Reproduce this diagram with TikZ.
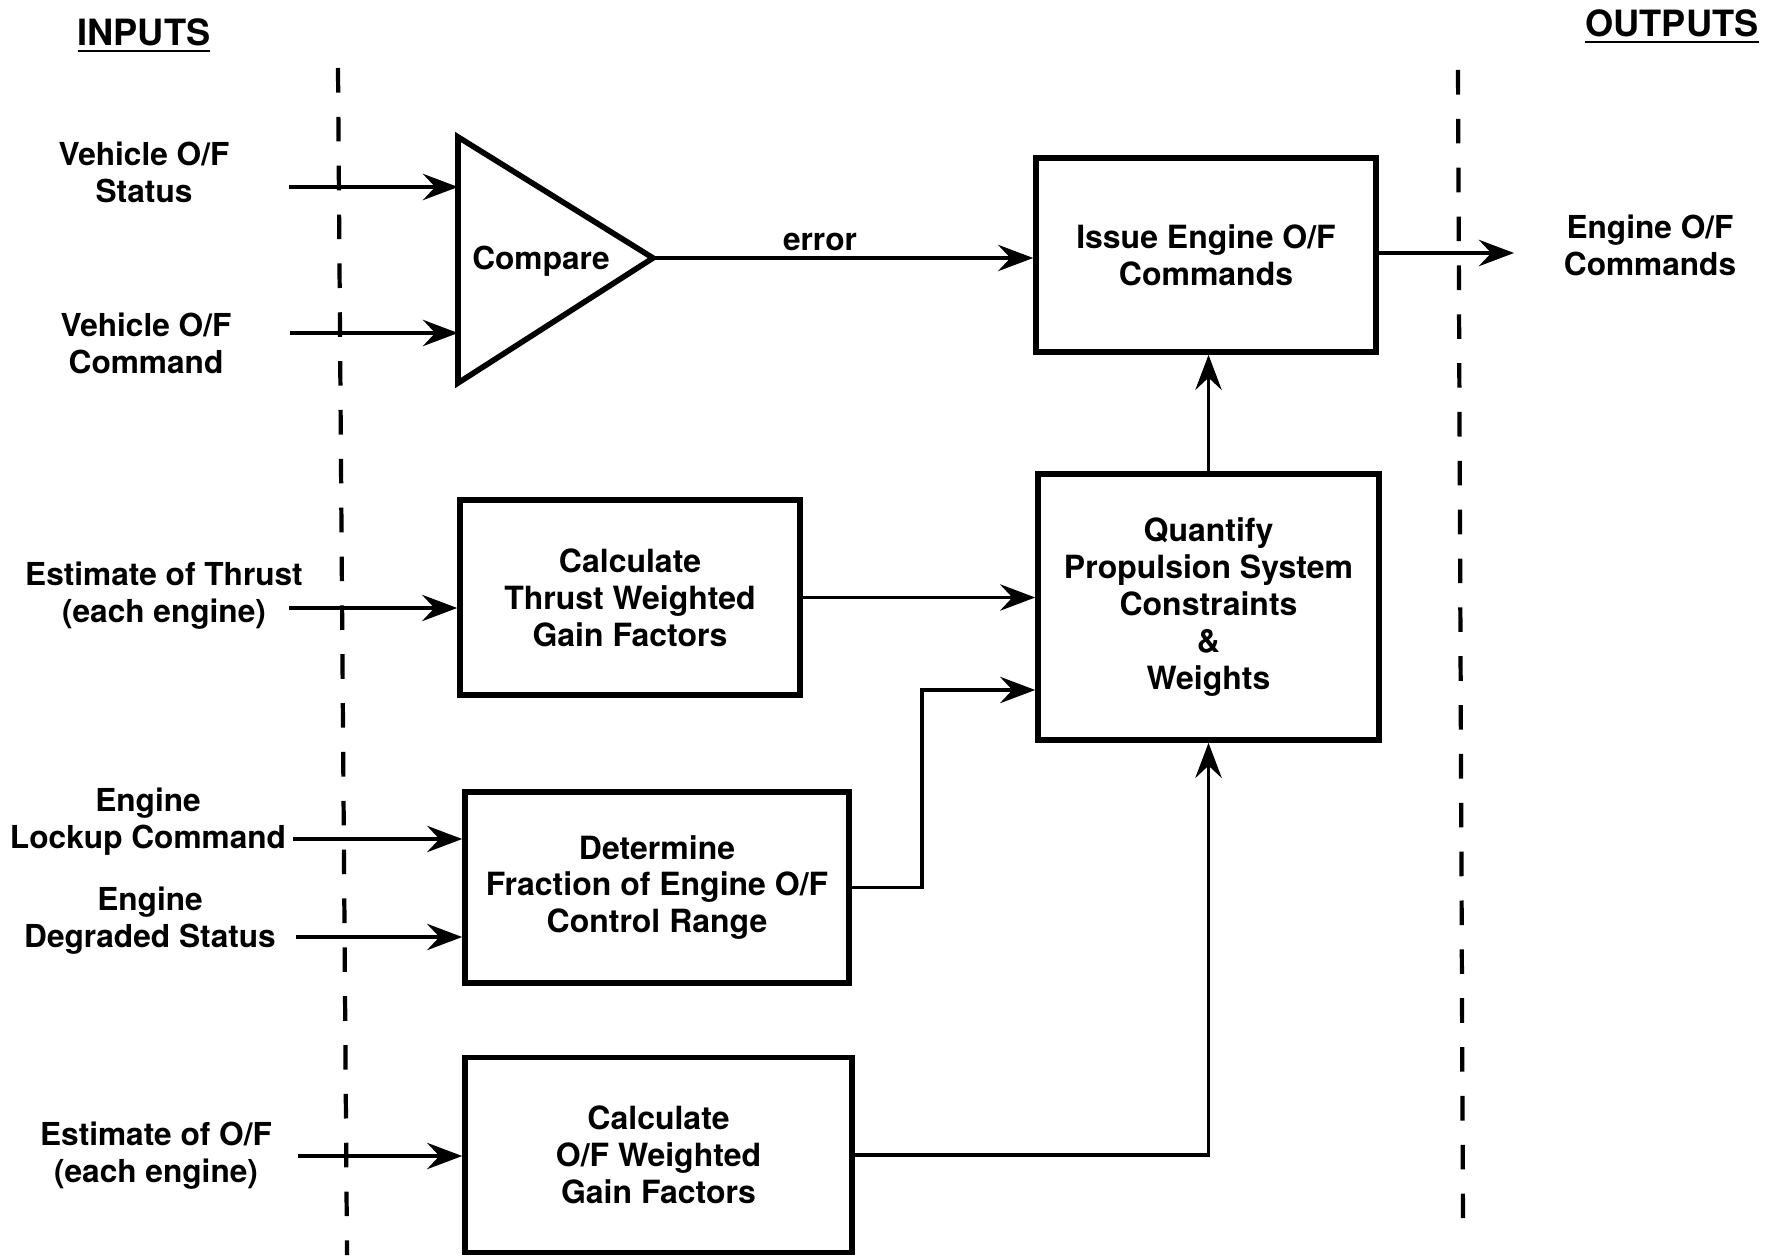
\documentclass[tikz,border=0pt]{standalone}
\usepackage{fontspec}
\setmainfont{TeX Gyre Heros}
\usetikzlibrary{arrows.meta}

\begin{document}
\begin{tikzpicture}[line join=miter,
    box/.style={draw, line width=1.6pt, align=center, inner sep=0pt,
      font=\fontsize{9.1}{10.5}\selectfont\bfseries},
    lbl/.style={align=center, inner sep=0pt,
      font=\fontsize{9}{10.5}\selectfont\bfseries},
    head/.style={inner sep=0pt, font=\fontsize{10.3}{12}\selectfont\bfseries},
    flow/.style={line width=1.05pt, -{Stealth[length=10pt,width=7.5pt,inset=3.5pt]}},
    border/.style={line width=1.2pt, dash pattern=on 7pt off 6.9pt}]
  \useasboundingbox (0,0) rectangle (17.65,12.55);

  % headers
  \node[head] (inputs) at (1.44,12.19) {\underline{INPUTS}};
  \node[head] (outputs) at (16.72,12.28) {\underline{OUTPUTS}};

  % boundaries
  \draw[border] (3.38,11.87) -- (3.47,0);
  \draw[border] (14.58,11.85) -- (14.63,0.24);

  % compare block
  \coordinate (cmpA) at (4.58,11.18);
  \coordinate (cmpB) at (4.58,8.72);
  \coordinate (cmpC) at (6.53,9.97);
  \draw[line width=1.6pt] (cmpA) -- (cmpC) -- (cmpB) -- cycle;
  \node[lbl] (cmp) at (5.41,9.94) {Compare};
  \coordinate (cmpIn1) at (4.58,10.68);
  \coordinate (cmpIn2) at (4.58,9.22);

  \node[lbl] (vstat) at (1.44,10.83) {Vehicle O/F\\Status};
  \coordinate (vstatOut) at (2.89,10.68);
  \draw[flow] (vstatOut) -- (cmpIn1);

  \node[lbl] (vcmd) at (1.46,9.12) {Vehicle O/F\\Command};
  \coordinate (vcmdOut) at (2.90,9.22);
  \draw[flow] (vcmdOut) -- (cmpIn2);

  % issue commands
  \node[box, minimum width=3.40cm, minimum height=1.94cm] (issue) at (12.06,10.00)
    {Issue Engine O/F\\Commands};
  \draw[flow] (cmpC) -- (cmpC -| issue.west);
  \node[lbl, anchor=south] (err) at (8.20,10.04) {error};

  \coordinate (outEnd) at (15.14,10.02);
  \draw[flow] (issue.east |- outEnd) -- (outEnd);
  \node[lbl] (eofc) at (16.50,10.10) {Engine O/F\\Commands};

  % constraints and weights
  \node[box, minimum width=3.41cm, minimum height=2.66cm] (quant) at (12.085,6.48)
    {Quantify\\Propulsion System\\Constraints\\\&\\Weights};
  \draw[flow] (quant.north) -- (quant.north |- issue.south);

  % thrust weighting
  \node[box, minimum width=3.40cm, minimum height=1.95cm] (thrust) at (6.30,6.575)
    {Calculate\\Thrust Weighted\\Gain Factors};
  \draw[flow] (thrust.east) -- (thrust.east -| quant.west);

  \node[lbl] (ethr) at (1.64,6.59) {Estimate of Thrust\\(each engine)};
  \coordinate (ethrOut) at (2.89,6.47);
  \draw[flow] (ethrOut) -- (ethrOut -| thrust.west);

  % control range
  \node[box, minimum width=3.84cm, minimum height=1.91cm] (frac) at (6.57,3.675)
    {Determine\\Fraction of Engine O/F\\Control Range};
  \coordinate (knee) at (9.22,5.65);
  \draw[flow] (frac.east) -| (knee) -- (knee -| quant.west);

  \node[lbl] (lock) at (1.48,4.33) {Engine\\Lockup Command};
  \coordinate (lockOut) at (2.93,4.16);
  \draw[flow] (lockOut) -- (lockOut -| frac.west);

  \node[lbl] (degr) at (1.50,3.34) {Engine\\Degraded Status};
  \coordinate (degrOut) at (2.96,3.18);
  \draw[flow] (degrOut) -- (degrOut -| frac.west);

  % o/f weighting
  \node[box, minimum width=3.87cm, minimum height=1.95cm] (ofw) at (6.585,1.00)
    {Calculate\\O/F Weighted\\Gain Factors};
  \draw[flow] (ofw.east) -| (quant.south);

  \node[lbl] (eof) at (1.56,0.99) {Estimate of O/F\\(each engine)};
  \coordinate (eofOut) at (2.98,0.99);
  \draw[flow] (eofOut) -- (eofOut -| ofw.west);
\end{tikzpicture}
\end{document}
